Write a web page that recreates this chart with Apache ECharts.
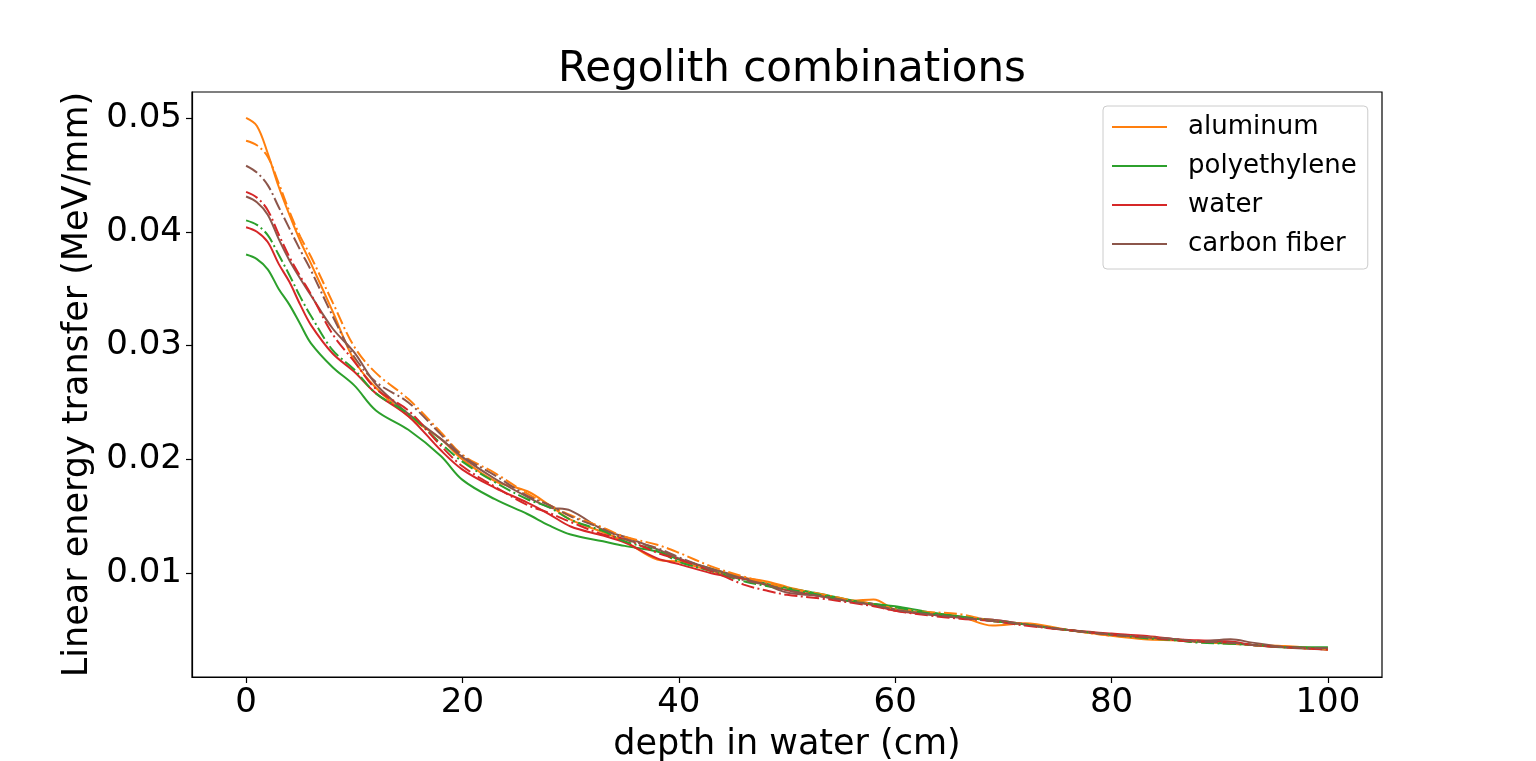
<!DOCTYPE html>
<html>
<head>
<meta charset="utf-8">
<script src="https://cdn.jsdelivr.net/npm/echarts@6/dist/echarts.min.js"></script>
<style>
  html, body { margin: 0; padding: 0; background: #fff; }
  #chart { width: 1536px; height: 761px; }
</style>
</head>
<body>
<div id="chart"></div>
<script>
// depth in water (cm), shared by every curve
var depth = [0, 1, 2, 3, 4, 5, 6, 8, 10, 12, 15, 18, 20, 23, 26, 28, 30, 33, 35, 38, 40, 43, 46, 48, 50,
             53, 56, 58, 60, 63, 66, 69, 72, 76, 80, 83, 86, 88, 91, 93, 96, 100];

// solid curves (MeV/mm)
var aluminum = [0.0500, 0.0493, 0.0469, 0.0440, 0.0415, 0.0392, 0.0372, 0.0330, 0.0287, 0.0263, 0.0238, 0.0218, 0.0200, 0.0181,
                0.0172, 0.0160, 0.0147, 0.0136, 0.0128, 0.0112, 0.0110, 0.0102, 0.0096, 0.0093, 0.0088, 0.0081, 0.0076, 0.0077,
                0.0068, 0.0065, 0.0062, 0.0054, 0.0056, 0.0050, 0.0045, 0.0042, 0.0041, 0.0040, 0.0039, 0.0037, 0.0036, 0.0033];
var polyethylene = [0.0380, 0.0376, 0.0367, 0.0350, 0.0336, 0.0319, 0.0302, 0.0281, 0.0265, 0.0243, 0.0226, 0.0203, 0.0182, 0.0165,
                    0.0152, 0.0142, 0.0134, 0.0128, 0.0124, 0.0119, 0.0112, 0.0104, 0.0095, 0.0091, 0.0087, 0.0082, 0.0076, 0.0073,
                    0.0071, 0.0066, 0.0062, 0.0058, 0.0055, 0.0050, 0.0046, 0.0044, 0.0041, 0.0040, 0.0038, 0.0037, 0.0035, 0.0035];
var water = [0.0404, 0.0400, 0.0391, 0.0372, 0.0356, 0.0336, 0.0318, 0.0293, 0.0277, 0.0258, 0.0238, 0.0208, 0.0191, 0.0175,
             0.0162, 0.0152, 0.0141, 0.0133, 0.0127, 0.0113, 0.0108, 0.0100, 0.0095, 0.0090, 0.0085, 0.0080, 0.0075, 0.0072,
             0.0067, 0.0064, 0.0061, 0.0059, 0.0055, 0.0050, 0.0047, 0.0045, 0.0042, 0.0041, 0.0040, 0.0037, 0.0035, 0.0033];
var carbonFiber = [0.0431, 0.0426, 0.0415, 0.0394, 0.0375, 0.0359, 0.0344, 0.0315, 0.0294, 0.0266, 0.0240, 0.0218, 0.0202, 0.0183,
                   0.0167, 0.0158, 0.0155, 0.0138, 0.0132, 0.0121, 0.0113, 0.0104, 0.0096, 0.0090, 0.0083, 0.0080, 0.0075, 0.0073,
                   0.0068, 0.0064, 0.0061, 0.0059, 0.0055, 0.0050, 0.0046, 0.0044, 0.0042, 0.0040, 0.0042, 0.0039, 0.0035, 0.0033];

// dash-dot curves (not in the legend)
var aluminum2 = [0.0480, 0.0476, 0.0466, 0.0443, 0.0418, 0.0396, 0.0378, 0.0338, 0.0299, 0.0276, 0.0253, 0.0224, 0.0204, 0.0188,
                 0.0170, 0.0160, 0.0151, 0.0140, 0.0132, 0.0125, 0.0118, 0.0106, 0.0097, 0.0092, 0.0087, 0.0082, 0.0076, 0.0073,
                 0.0069, 0.0066, 0.0064, 0.0058, 0.0055, 0.0050, 0.0045, 0.0044, 0.0041, 0.0040, 0.0038, 0.0037, 0.0035, 0.0033];
var polyethylene2 = [0.0410, 0.0406, 0.0397, 0.0380, 0.0362, 0.0343, 0.0326, 0.0296, 0.0279, 0.0258, 0.0240, 0.0214, 0.0198, 0.0180,
                     0.0165, 0.0158, 0.0147, 0.0137, 0.0128, 0.0120, 0.0110, 0.0102, 0.0093, 0.0089, 0.0086, 0.0081, 0.0075, 0.0073,
                     0.0070, 0.0065, 0.0062, 0.0058, 0.0055, 0.0050, 0.0046, 0.0043, 0.0041, 0.0039, 0.0038, 0.0037, 0.0035, 0.0034];
var water2 = [0.0435, 0.0430, 0.0419, 0.0398, 0.0378, 0.0361, 0.0345, 0.0310, 0.0286, 0.0262, 0.0243, 0.0212, 0.0194, 0.0176,
              0.0160, 0.0153, 0.0145, 0.0134, 0.0130, 0.0118, 0.0112, 0.0102, 0.0090, 0.0085, 0.0081, 0.0078, 0.0074, 0.0071,
              0.0067, 0.0063, 0.0060, 0.0058, 0.0054, 0.0050, 0.0046, 0.0044, 0.0041, 0.0040, 0.0039, 0.0037, 0.0035, 0.0033];
var carbonFiber2 = [0.0458, 0.0452, 0.0441, 0.0422, 0.0403, 0.0384, 0.0366, 0.0326, 0.0290, 0.0268, 0.0250, 0.0222, 0.0203, 0.0186,
                    0.0168, 0.0160, 0.0150, 0.0139, 0.0130, 0.0122, 0.0114, 0.0103, 0.0094, 0.0090, 0.0085, 0.0080, 0.0075, 0.0072,
                    0.0068, 0.0064, 0.0061, 0.0058, 0.0055, 0.0050, 0.0046, 0.0044, 0.0042, 0.0040, 0.0039, 0.0037, 0.0035, 0.0034];

var xTicks = [0, 20, 40, 60, 80, 100];
var yTicks = [0.01, 0.02, 0.03, 0.04, 0.05];

var FONT = 'DejaVu Sans';
var dashDot = [13, 3.5, 2, 3.5];

function pairs(vals) {
    return depth.map(function (d, i) { return [d, vals[i]]; });
}

function curve(name, color, vals, dashed) {
    return {
        name: name,
        type: 'line',
        data: pairs(vals),
        smooth: 0.35,
        symbol: 'none',
        color: color,
        lineStyle: { color: color, width: 2, type: dashed ? dashDot : 'solid' },
        z: dashed ? 3 : 2
    };
}

var myChart = echarts.init(document.getElementById('chart'));
var option = {
    animation: false,
    backgroundColor: '#fff',
    title: {
        text: 'Regolith combinations',
        left: 787,
        top: 44,
        textAlign: 'center',
        textStyle: { fontFamily: FONT, fontSize: 42, fontWeight: 'normal', color: '#000' }
    },
    legend: {
        data: ['aluminum', 'polyethylene', 'water', 'carbon fiber'],
        orient: 'vertical',
        left: 1103,
        top: 106,
        padding: [8, 11, 12, 9],
        icon: 'rect',
        itemWidth: 55,
        itemHeight: 2,
        itemGap: 13,
        borderColor: '#cccccc',
        borderWidth: 1,
        borderRadius: 4,
        backgroundColor: 'rgba(255,255,255,0.8)',
        textStyle: { fontFamily: FONT, fontSize: 26, lineHeight: 26, color: '#000', padding: [0, 0, 0, 16] }
    },
    grid: {
        left: 192,
        top: 92,
        width: 1190,
        height: 585,
        show: true,
        borderColor: '#000',
        borderWidth: 1.2,
        containLabel: false,
        outerBoundsMode: 'none'
    },
    xAxis: {
        type: 'value',
        min: -5,
        max: 105,
        name: 'depth in water (cm)',
        nameLocation: 'middle',
        nameGap: 50,
        nameTextStyle: { fontFamily: FONT, fontSize: 35, color: '#000' },
        splitLine: { show: false },
        axisLine: { onZero: false, lineStyle: { color: '#000', width: 1.2 } },
        axisTick: { customValues: xTicks, length: 6, lineStyle: { color: '#000', width: 1.2 } },
        axisLabel: { customValues: xTicks, margin: 9, fontFamily: FONT, fontSize: 34, color: '#000' }
    },
    yAxis: {
        type: 'value',
        min: 0.00088,
        max: 0.05228,
        name: 'Linear energy transfer (MeV/mm)',
        nameLocation: 'middle',
        nameGap: 87,
        nameTextStyle: { fontFamily: FONT, fontSize: 35, color: '#000' },
        splitLine: { show: false },
        axisLine: { show: true, onZero: false, lineStyle: { color: '#000', width: 1.2 } },
        axisTick: { show: true, customValues: yTicks, length: 6, lineStyle: { color: '#000', width: 1.2 } },
        axisLabel: {
            customValues: yTicks,
            margin: 10,
            fontFamily: FONT,
            fontSize: 34,
            color: '#000',
            formatter: function (v) { return v.toFixed(2); }
        }
    },
    series: [
        curve('aluminum', '#ff7f0e', aluminum, false),
        curve('polyethylene', '#2ca02c', polyethylene, false),
        curve('water', '#d62728', water, false),
        curve('carbon fiber', '#8c564b', carbonFiber, false),
        curve('aluminum ', '#ff7f0e', aluminum2, true),
        curve('polyethylene ', '#2ca02c', polyethylene2, true),
        curve('water ', '#d62728', water2, true),
        curve('carbon fiber ', '#8c564b', carbonFiber2, true)
    ]
};
myChart.setOption(option);
</script>
</body>
</html>
